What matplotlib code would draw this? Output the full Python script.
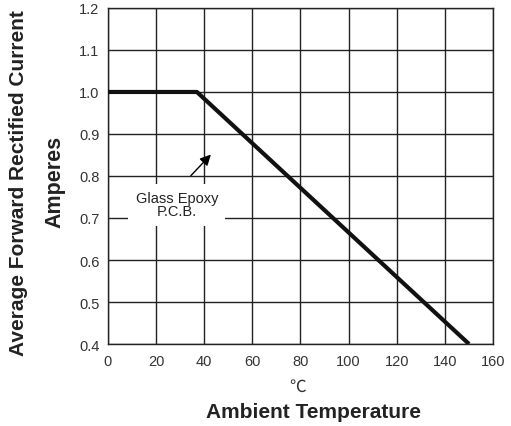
import matplotlib
matplotlib.use("Agg")
import matplotlib.pyplot as plt

# derating curve (Glass Epoxy P.C.B.)
temp = [0, 37, 150]
current = [1.0, 1.0, 0.4]

x_ticks = [0, 20, 40, 60, 80, 100, 120, 140, 160]
y_ticks = [0.4, 0.5, 0.6, 0.7, 0.8, 0.9, 1.0, 1.1, 1.2]
y_labels = ["0.4", "0.5", "0.6", "0.7", "0.8", "0.9", "1.0", "1.1", "1.2"]

plt.rcParams["font.family"] = ["Liberation Sans", "DejaVu Sans"]

fig = plt.figure(figsize=(5.11, 4.27), dpi=100)
ax = fig.add_axes([0.211, 0.192, 0.754, 0.787])

ax.plot(temp, current, color="#111111", lw=3, solid_capstyle="butt", zorder=5)

ax.set_xlim(0, 160)
ax.set_ylim(0.4, 1.2)
ax.set_xticks(x_ticks)
ax.set_yticks(y_ticks)
ax.set_yticklabels(y_labels)
ax.tick_params(length=0, labelsize=10.5, colors="#333333")
ax.tick_params(axis="x", pad=7)
ax.tick_params(axis="y", pad=6)
ax.grid(True, color="#222222", lw=1)
for s in ax.spines.values():
    s.set_color("#222222")
    s.set_linewidth(1)

ax.text(28.7, 0.732, "Glass Epoxy\nP.C.B.", ha="center", va="center", fontsize=10.5,
        linespacing=0.95, zorder=4, color="#222222",
        bbox=dict(facecolor="white", edgecolor="none", boxstyle="square,pad=0.5"))
ax.annotate("", xy=(43.6, 0.856), xytext=(33.7, 0.796),
            arrowprops=dict(arrowstyle="-|>", color="black", lw=1, mutation_scale=16),
            zorder=6)

fig.text(0.036, 0.571, "Average Forward Rectified Current", rotation=90, ha="center",
         va="center", fontsize=15, fontweight="bold", color="#222222")
fig.text(0.108, 0.575, "Amperes", rotation=90, ha="center", va="center",
         fontsize=15.5, fontweight="bold", color="#222222")
fig.text(0.583, 0.094, "℃", ha="center", va="center", fontsize=12,
         family=["Noto Sans CJK SC", "DejaVu Sans"], color="#333333")
fig.text(0.614, 0.033, "Ambient Temperature", ha="center", va="center",
         fontsize=15, fontweight="bold", color="#222222")

fig.savefig("out.png", dpi=100)
